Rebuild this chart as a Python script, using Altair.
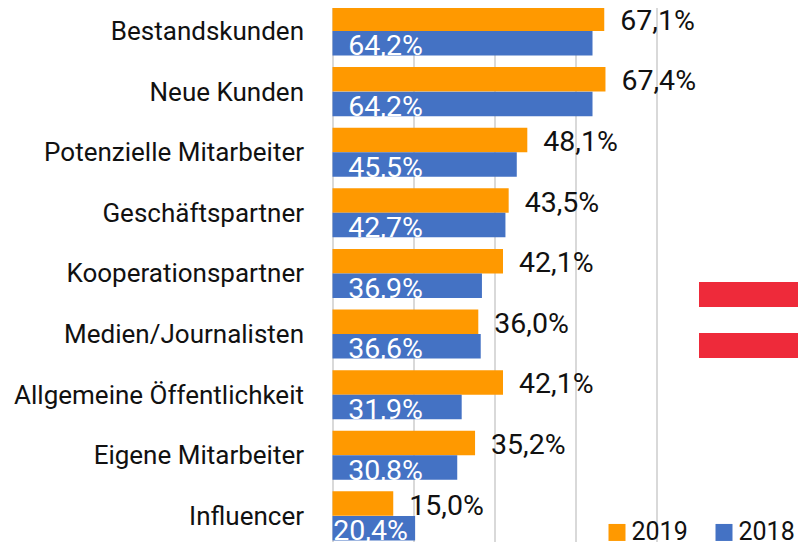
import altair as alt
import pandas as pd

FONT = "Roboto"
categories = ["Bestandskunden", "Neue Kunden", "Potenzielle Mitarbeiter", "Geschäftspartner",
              "Kooperationspartner", "Medien/Journalisten", "Allgemeine Öffentlichkeit",
              "Eigene Mitarbeiter", "Influencer"]
values_2019 = [67.1, 67.4, 48.1, 43.5, 42.1, 36.0, 42.1, 35.2, 15.0]
values_2018 = [64.2, 64.2, 45.5, 42.7, 36.9, 36.6, 31.9, 30.8, 20.4]
years = ["2019", "2018"]
colors = ["#FF9900", "#4472C4"]
flag_red = "#EE2A3A"

rows = []
for c, a, b in zip(categories, values_2019, values_2018):
    rows.append({"cat": c, "year": "2019", "v": a})
    rows.append({"cat": c, "year": "2018", "v": b})
df = pd.DataFrame(rows)

y = alt.Y("cat:N", sort=categories, title=None,
          scale=alt.Scale(paddingInner=0.19, paddingOuter=0.095),
          axis=alt.Axis(domain=False, ticks=False, labelFont=FONT, labelFontSize=26,
                        labelColor="#111111", labelPadding=29, labelLimit=400, labelOffset=1,
                        grid=False))
yo = alt.YOffset("year:N", sort=years, scale=alt.Scale(domain=years, paddingInner=0, paddingOuter=0))
x = alt.X("v:Q", title=None, scale=alt.Scale(domain=[0, 80], nice=False),
          axis=alt.Axis(values=[0, 20, 40, 60, 80], labels=False, ticks=False, domain=False,
                        grid=True, gridColor="#D9D9D9", gridWidth=2))

base = alt.Chart(df).transform_calculate(
    label="replace(format(datum.v,'.1f'),'.',',')+'%'",
    lx="datum.v < 25 ? 0.2 : 3.9")

bars = base.mark_bar(size=24.5).encode(
    x=x, y=y, yOffset=yo,
    color=alt.Color("year:N", sort=years, scale=alt.Scale(domain=years, range=colors),
                    legend=alt.Legend(title=None, orient="none", legendX=272, legendY=519,
                                      direction="horizontal", symbolType="square", symbolSize=289,
                                      symbolStrokeWidth=0, labelFont=FONT, labelFontSize=25,
                                      labelColor="#111111", columnPadding=23, labelOffset=2,
                                      symbolOpacity=1)))

lab19 = base.transform_filter("datum.year=='2019'").mark_text(
    align="left", baseline="middle", dx=16, dy=2, font=FONT, fontSize=28.5, color="#111111"
).encode(x="v:Q", y=alt.Y("cat:N", sort=categories), yOffset=yo, text="label:N")

lab18 = base.transform_filter("datum.year=='2018'").mark_text(
    align="left", baseline="middle", dy=3, font=FONT, fontSize=28.5, color="#FFFFFF"
).encode(x="lx:Q", y=alt.Y("cat:N", sort=categories), yOffset=yo, text="label:N")

one = alt.Data(values=[{"a": 1}])
flag1 = alt.Chart(one).mark_rect(color=flag_red, clip=False).encode(
    x=alt.value(366.5), x2=alt.value(473.5), y=alt.value(281.3), y2=alt.value(306.3))
flag2 = alt.Chart(one).mark_rect(color=flag_red, clip=False).encode(
    x=alt.value(366.5), x2=alt.value(473.5), y=alt.value(332.3), y2=alt.value(357.3))

chart = alt.layer(bars, lab19, lab18, flag1, flag2).resolve_scale(yOffset="shared").properties(
    width=324, height=545.5,
    autosize=alt.AutoSizeParams(type="none"),
    padding={"left": 324.5, "top": -7.3, "right": 141.5, "bottom": -4.2},
    background="white"
).configure_view(stroke=None)

chart.save("out.html", embed_options={"renderer": "svg", "actions": False})
